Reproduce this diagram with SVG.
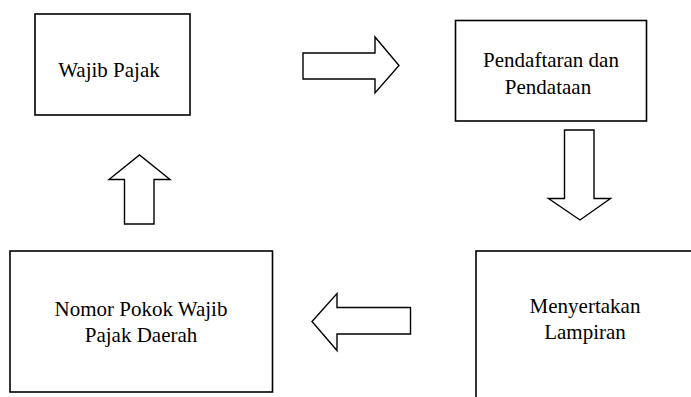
<svg xmlns="http://www.w3.org/2000/svg" width="691" height="397" viewBox="0 0 691 397">
<style>
.box{fill:#fff;stroke:#000;stroke-width:1.6}
.arr{fill:#fff;stroke:#000;stroke-width:1.4;stroke-linejoin:miter}
.t{font-family:'Liberation Serif','Times New Roman','DejaVu Serif',serif;font-size:21px;fill:#000;text-anchor:middle}
</style>
<rect width="691" height="397" fill="#fff"/>
<g id="wajib-pajak">
<rect class="box" x="35" y="14" width="155" height="101"/>
<text class="t" font-family="Liberation Serif, serif" x="109" y="77">Wajib Pajak</text>
</g>
<g id="pendaftaran">
<rect class="box" x="455.5" y="20.5" width="191" height="100.5"/>
<text class="t" font-family="Liberation Serif, serif" x="551" y="67">Pendaftaran dan</text>
<text class="t" font-family="Liberation Serif, serif" x="548" y="94">Pendataan</text>
</g>
<g id="menyertakan">
<rect class="box" x="476" y="251" width="230" height="160"/>
<text class="t" font-family="Liberation Serif, serif" x="585" y="313">Menyertakan</text>
<text class="t" font-family="Liberation Serif, serif" x="585" y="339">Lampiran</text>
</g>
<g id="nomor-pokok">
<rect class="box" x="10" y="251" width="262.5" height="141"/>
<text class="t" font-family="Liberation Serif, serif" x="141" y="316">Nomor Pokok Wajib</text>
<text class="t" font-family="Liberation Serif, serif" x="141" y="342">Pajak Daerah</text>
</g>
<g id="connectors">
<path class="arr" d="M303,53 L375,53 L375,37 L399,65.5 L375,93 L375,79 L303,79 Z"/>
<path class="arr" d="M564.5,130 L594,130 L594,198.5 L610.5,198.5 L580,220 L548.5,198.5 L564.5,198.5 Z"/>
<path class="arr" d="M410.5,307.5 L337,307.5 L337,293.5 L312,321.5 L337,350.5 L337,334 L410.5,334 Z"/>
<path class="arr" d="M124.5,224 L124.5,179.5 L109,179.5 L139.5,155 L170,179.5 L154,179.5 L154,224 Z"/>
</g>
</svg>
